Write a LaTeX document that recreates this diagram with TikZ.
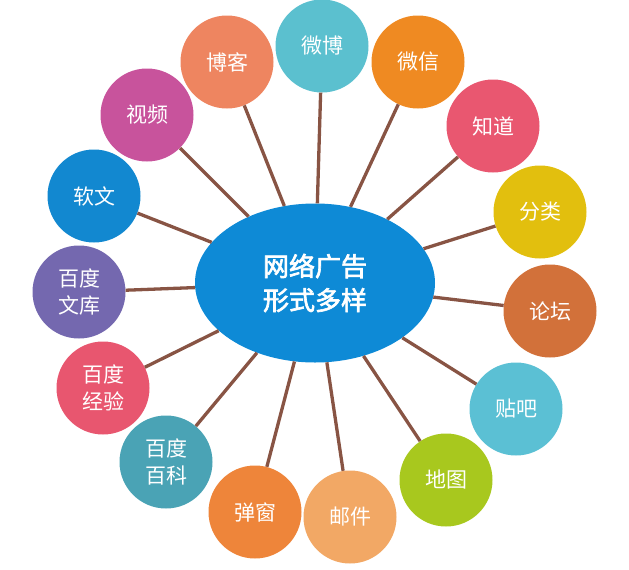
\documentclass[tikz,border=0pt]{standalone}
\usepackage{fontspec}
\newfontfamily\cjk{Noto Sans CJK SC}
\newfontfamily\cjkbold[AutoFakeBold=2.5]{Noto Sans CJK SC}
\definecolor{hubblue}{HTML}{0E8AD6}
\definecolor{spokebrown}{HTML}{885444}
\definecolor{blogcol}{HTML}{EE8560}
\definecolor{weibocol}{HTML}{5BC0CF}
\definecolor{wechatcol}{HTML}{EF8A22}
\definecolor{zhidaocol}{HTML}{E95770}
\definecolor{fenleicol}{HTML}{E2BF0E}
\definecolor{luntancol}{HTML}{D2713A}
\definecolor{tiebacol}{HTML}{5BC0D4}
\definecolor{ditucol}{HTML}{A8C81E}
\definecolor{youjiancol}{HTML}{F2A865}
\definecolor{tanchuangcol}{HTML}{EE853A}
\definecolor{baikecol}{HTML}{4AA3B5}
\definecolor{jingyancol}{HTML}{E8566F}
\definecolor{wenkucol}{HTML}{7468AF}
\definecolor{ruanwencol}{HTML}{1288D0}
\definecolor{shipincol}{HTML}{C8539C}
\tikzset{
  hub/.style={ellipse,fill=hubblue,text=white,minimum width=240pt,minimum height=159pt,inner sep=0pt,align=center,font=\cjkbold\bfseries\fontsize{26}{34}\selectfont},
  ball/.style={circle,text=white,minimum size=93pt,inner sep=0pt,align=center,font=\cjk\fontsize{21}{27}\selectfont},
  spoke/.style={spokebrown,line width=3.3pt}
}
\usetikzlibrary{shapes.geometric}
\begin{document}
\begin{tikzpicture}[x=1pt,y=-1pt]
	\useasboundingbox (0,0) rectangle (629,570); % same size as the picture
		\node[hub] (ctr) at (315,283) {网络广告\\形式多样};
		
		\foreach \Name/\X/\Y/\Label in {blog/227/62/博客,weibo/322/46/微博,wechat/418/62/微信,zhidao/493/126/知道,fenlei/540/212/分类,luntan/550/311/论坛,tieba/516/409/贴吧,ditu/446/480/地图}{\node[ball,fill=\Name col] (\Name) at (\X,\Y) {\Label};}
		\foreach \Name/\X/\Y/\Label in {youjian/350/517/邮件,tanchuang/255/512/弹窗,baike/166/462/{百度\\百科},jingyan/103/388/{百度\\经验},wenku/79/292/{百度\\文库},ruanwen/94/196/软文,shipin/147/115/视频}{\node[ball,fill=\Name col] (\Name) at (\X,\Y) {\Label};}
		
		\foreach \Name in {blog,weibo,wechat,zhidao,fenlei,luntan,tieba,ditu,youjian,tanchuang,baike,jingyan,wenku,ruanwen,shipin}{\draw[spoke] (ctr) -- (\Name);}% spokes
	\end{tikzpicture}
\end{document}
